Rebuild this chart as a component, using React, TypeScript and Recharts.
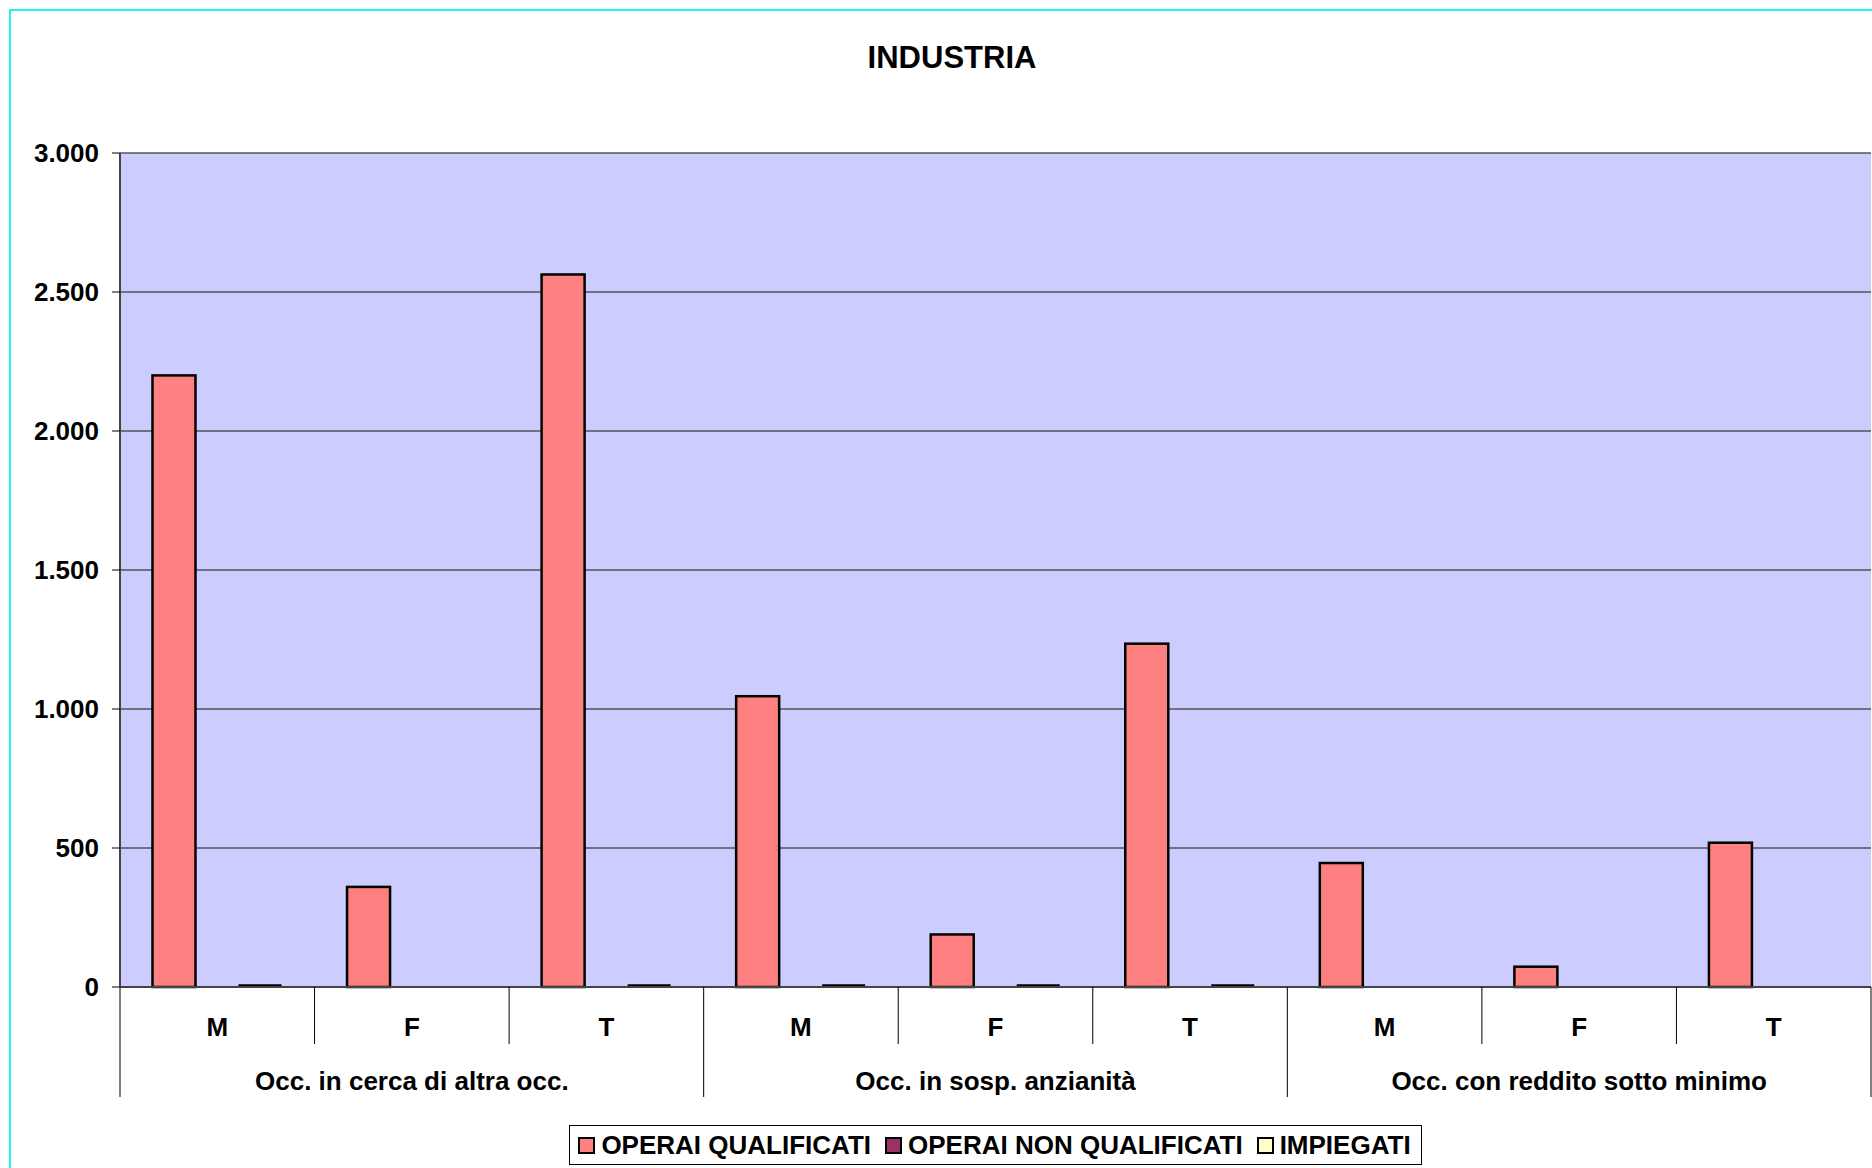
import type { FC } from "react";
import {
  BarChart,
  Bar,
  XAxis,
  YAxis,
  CartesianGrid,
  Legend,
} from "recharts";

const FONT = '"Liberation Sans", Arial, sans-serif';

const CATEGORIES = ["M", "F", "T", "M", "F", "T", "M", "F", "T"];
const GROUPS = [
  "Occ. in cerca di altra occ.",
  "Occ. in sosp. anzianità",
  "Occ. con reddito sotto minimo",
];
const OPERAI_QUALIFICATI = [2200, 360, 2563, 1046, 189, 1235, 446, 73, 519];
const OPERAI_NON_QUALIFICATI = [null, null, null, null, null, null, null, null, null];
const IMPIEGATI = [0, null, 0, 0, 0, 0, null, null, null];
const Y_TICKS = [0, 500, 1000, 1500, 2000, 2500, 3000];

const SERIES = [
  { key: "q", name: "OPERAI QUALIFICATI", color: "#FF8080" },
  { key: "nq", name: "OPERAI NON QUALIFICATI", color: "#993366" },
  { key: "imp", name: "IMPIEGATI", color: "#FFFFCC" },
];

const data = CATEGORIES.map((sex, i) => ({
  key: String(i),
  sex,
  q: OPERAI_QUALIFICATI[i],
  nq: OPERAI_NON_QUALIFICATI[i],
  imp: IMPIEGATI[i],
}));

const W = 1872;
const H = 1168;
const Y_AXIS_W = 120;
const MARGIN = { top: 153, right: 1, left: 0, bottom: 3 };
const BAND = (W - MARGIN.right - MARGIN.left - Y_AXIS_W) / CATEGORIES.length;

const fmt = (v: number) => String(v).replace(/\B(?=(\d{3})+(?!\d))/g, ".");

// excel draws zero values as a flat border line, empty cells not at all
const barShape = (key: string) => (p: any) => {
  const v = p.payload?.[key];
  if (v == null) return <g />;
  const { x, y, width, height, fill } = p;
  if (!height) {
    return <line x1={x} x2={x + width} y1={y - 1} y2={y - 1} stroke="#000" strokeWidth={3.5} />;
  }
  return (
    <rect x={x} y={y} width={width} height={height} fill={fill} stroke="#000" strokeWidth={2.5} />
  );
};

const XTick = (props: any) => {
  const { x, y, index } = props;
  const half = BAND / 2;
  const textStyle = { fontSize: 26, fontWeight: "bold", fontFamily: FONT, fill: "#000" };
  return (
    <g>
      <line
        x1={x - half}
        x2={x - half}
        y1={y}
        y2={y + (index % 3 === 0 ? 110 : 57)}
        stroke="#000"
        strokeWidth={1}
      />
      {index === CATEGORIES.length - 1 && (
        <line x1={x + half} x2={x + half} y1={y} y2={y + 110} stroke="#000" strokeWidth={1} />
      )}
      <text x={x} y={y + 49} textAnchor="middle" style={textStyle}>
        {CATEGORIES[index]}
      </text>
      {index % 3 === 1 && (
        <text x={x} y={y + 103} textAnchor="middle" style={textStyle}>
          {GROUPS[Math.floor(index / 3)]}
        </text>
      )}
    </g>
  );
};

const LegendBox: FC = () => (
  <div style={{ display: "flex", justifyContent: "center" }}>
    <div
      style={{
        display: "flex",
        alignItems: "center",
        border: "1.5px solid #000",
        background: "#fff",
        height: 38,
        padding: "0 10px 0 8px",
        gap: 14,
        fontSize: 26,
        fontWeight: "bold",
        fontFamily: FONT,
        color: "#000",
      }}
    >
      {SERIES.map((s) => (
        <div key={s.key} style={{ display: "flex", alignItems: "center", gap: 6 }}>
          <span
            style={{
              width: 17,
              height: 17,
              boxSizing: "border-box",
              border: "2px solid #000",
              background: s.color,
            }}
          />
          <span>{s.name}</span>
        </div>
      ))}
    </div>
  </div>
);

const App: FC = () => (
  <div
    style={{
      position: "absolute",
      left: 0,
      top: 0,
      width: W,
      height: H,
      overflow: "hidden",
      background: "#fff",
    }}
  >
    <div
      style={{
        position: "absolute",
        left: 9,
        top: 9,
        width: W + 50,
        height: H + 50,
        border: "2px solid #22f2f2",
      }}
    />
    <div
      style={{
        position: "absolute",
        left: 0,
        top: 40,
        width: 1904,
        textAlign: "center",
        fontSize: 31,
        lineHeight: "36px",
        fontWeight: "bold",
        fontFamily: FONT,
        color: "#000",
      }}
    >
      INDUSTRIA
    </div>
    <div style={{ position: "absolute", left: 0, top: 0 }}>
      <BarChart
        width={W}
        height={H}
        data={data}
        margin={MARGIN}
        barCategoryGap="16.7%"
        barGap={0}
      >
        <CartesianGrid
          vertical={false}
          fill="#CCCCFF"
          stroke="#555"
          strokeWidth={1.3}
        />
        <XAxis
          dataKey="key"
          interval={0}
          height={138}
          tickSize={0}
          tickMargin={0}
          tickLine={false}
          axisLine={{ stroke: "#444", strokeWidth: 2 }}
          tick={(p: any) => <XTick {...p} />}
        />
        <YAxis
          width={Y_AXIS_W}
          domain={[0, 3000]}
          ticks={Y_TICKS}
          interval={0}
          tickSize={8}
          tickMargin={13}
          tickFormatter={fmt}
          axisLine={{ stroke: "#444", strokeWidth: 2 }}
          tickLine={{ stroke: "#000" }}
          tick={{ fill: "#000", fontSize: 26, fontWeight: "bold", fontFamily: FONT }}
        />
        <Legend
          verticalAlign="bottom"
          content={() => <LegendBox />}
          wrapperStyle={{ left: Y_AXIS_W, width: W - Y_AXIS_W - 1 }}
        />
        {SERIES.map((s) => (
          <Bar
            key={s.key}
            dataKey={s.key}
            name={s.name}
            fill={s.color}
            shape={barShape(s.key)}
            isAnimationActive={false}
          />
        ))}
      </BarChart>
    </div>
  </div>
);

export default App;
